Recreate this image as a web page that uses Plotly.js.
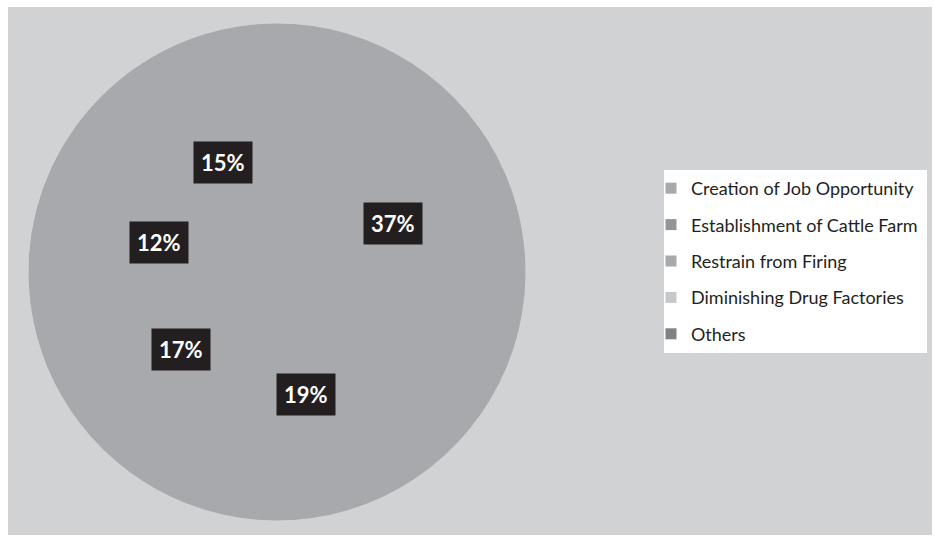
<!DOCTYPE html>
<html>
<head>
<meta charset="utf-8">
<script src="https://cdn.plot.ly/plotly-3.0.1.min.js"></script>
<style>
  html, body { margin: 0; padding: 0; background: #ffffff; }
  #chart { position: absolute; left: 8px; top: 7px; width: 924px; height: 528px; }
</style>
</head>
<body>
<div id="chart"></div>
<script>
const categories = ["Creation of Job Opportunity", "Establishment of Cattle Farm", "Restrain from Firing", "Diminishing Drug Factories", "Others"];
const values = [37, 19, 17, 12, 15];
const legendColors = ["#a7a9ac", "#939598", "#a7a9ac", "#c7c8ca", "#808285"];
const sliceColor = "#a7a9ac";

const W = 924, H = 528;
const margin = {l: 0, r: 0, t: 17, b: 15};
const plotW = W - margin.l - margin.r, plotH = H - margin.t - margin.b;
const R = plotH / 2;
const cx = 269;
const domX = [(cx - R) / plotW, (cx + R) / plotW];

const traces = [{
  type: 'pie',
  values: values,
  labels: categories,
  marker: {colors: categories.map(() => sliceColor), line: {width: 1, color: sliceColor}},
  sort: false,
  direction: 'clockwise',
  rotation: 0,
  textinfo: 'none',
  hoverinfo: 'label+percent',
  showlegend: false,
  domain: {x: domX, y: [0, 1]}
}];

categories.forEach((c, i) => {
  traces.push({
    type: 'scatter', mode: 'markers', x: [null], y: [null], name: c,
    legendgroup: 'g' + i,
    marker: {symbol: 'square', size: 11, color: legendColors[i]},
    hoverinfo: 'skip'
  });
});

// label annotations at slice mid-angles
const total = values.reduce((a, b) => a + b, 0);
let cum = 0;
const annotations = values.map((v, i) => {
  const mid = (cum + v / 2) / total * 2 * Math.PI;
  cum += v;
  const rf = 0.5;
  const px = cx + rf * R * Math.sin(mid);
  const py = R - rf * R * Math.cos(mid);
  return {
    xref: 'paper', yref: 'paper',
    x: px / plotW, y: 1 - py / plotH,
    xanchor: 'center', yanchor: 'middle',
    xshift: 2, yshift: -1,
    text: '<b>' + Math.round(v / total * 100) + '%</b>',
    showarrow: false,
    bgcolor: '#231f20',
    borderpad: 7,
    font: {family: 'Lato, "Open Sans", sans-serif', size: 22, color: '#ffffff'}
  };
});

const toPx = (x) => (x - 8 - margin.l) / plotW;
const toPy = (y) => 1 - (y - 7 - margin.t) / plotH;

const layout = {
  width: W, height: H,
  margin: margin,
  paper_bgcolor: '#d1d2d4',
  plot_bgcolor: 'rgba(0,0,0,0)',
  xaxis: {visible: false},
  yaxis: {visible: false},
  showlegend: true,
  shapes: [{
    type: 'rect', xref: 'paper', yref: 'paper', layer: 'below',
    x0: toPx(664), x1: toPx(927), y0: toPy(353), y1: toPy(170),
    fillcolor: '#ffffff', line: {width: 0}
  }],
  legend: {
    x: toPx(651), xanchor: 'left',
    y: toPy(170), yanchor: 'top',
    bgcolor: 'rgba(0,0,0,0)',
    font: {family: 'Lato, "Open Sans", sans-serif', size: 18, color: '#231f20'},
    tracegroupgap: 10,
    itemwidth: 30,
    traceorder: 'grouped'
  },
  annotations: annotations
};

Plotly.newPlot('chart', traces, layout, {displayModeBar: false, staticPlot: true});
</script>
</body>
</html>
